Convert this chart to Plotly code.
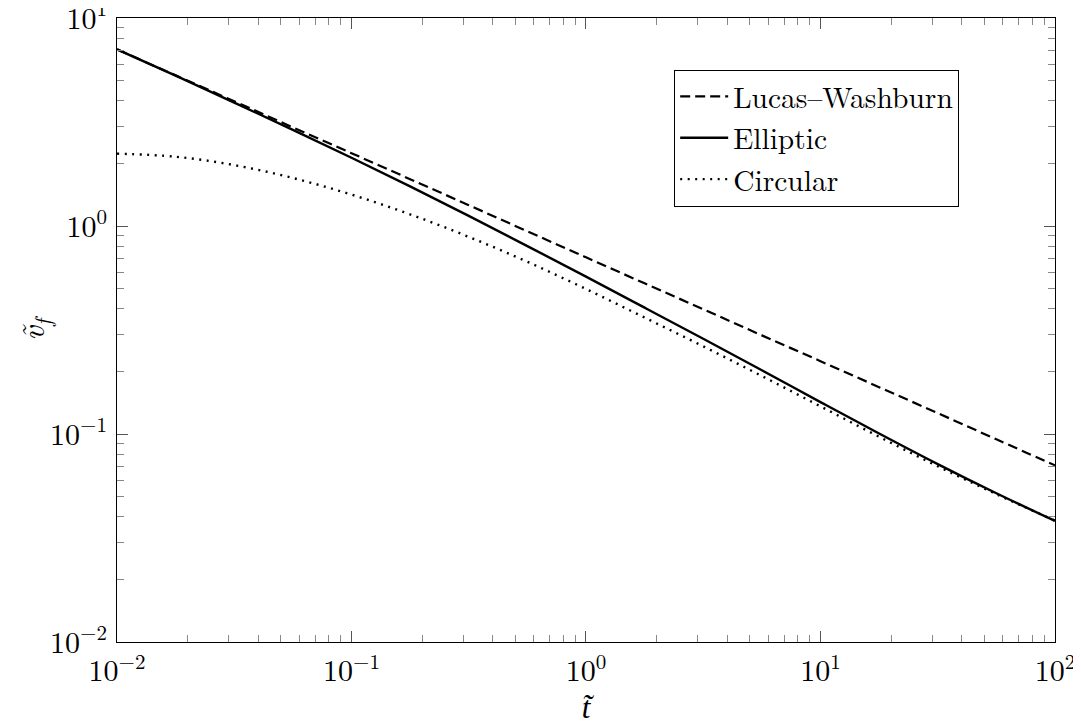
import plotly.graph_objects as go

# dimensionless time (log-spaced sample points)
t_vals = [0.01, 0.01778, 0.03162, 0.05623, 0.1, 0.1778, 0.3162, 0.5623, 1.0,
          1.778, 3.162, 5.623, 10.0, 17.78, 31.62, 56.23, 100.0]

# front velocity
v_lucas_washburn = [7.07, 5.30, 3.98, 2.98, 2.24, 1.68, 1.26, 0.943, 0.707,
                    0.530, 0.398, 0.298, 0.224, 0.168, 0.126, 0.0943, 0.0707]
v_elliptic = [7.07, 5.28, 3.92, 2.90, 2.13, 1.55, 1.118, 0.801, 0.571,
              0.405, 0.287, 0.2025, 0.1424, 0.1006, 0.0717, 0.0519, 0.0382]
v_circular = [2.228, 2.153, 1.963, 1.702, 1.416, 1.138, 0.887, 0.673, 0.498,
              0.363, 0.264, 0.190, 0.1358, 0.0970, 0.0700, 0.0514, 0.0383]

series_names = ["Lucas–Washburn", "Elliptic", "Circular"]

x_tickvals = [0.01, 0.1, 1, 10, 100]
x_ticktext = ["10<sup>−2</sup>", "10<sup>−1</sup>", "10<sup>0</sup>", "10<sup>1</sup>", "10<sup>2</sup>"]
y_tickvals = [0.01, 0.1, 1, 10]
y_ticktext = ["10<sup>−2</sup>", "10<sup>−1</sup>", "10<sup>0</sup>", "10<sup>1</sup>"]

FONT = "Latin Modern Roman"
TITLE_FONT = "Liberation Serif"

fig = go.Figure()
fig.add_trace(go.Scatter(x=t_vals, y=v_lucas_washburn, mode="lines", name=series_names[0],
                         line=dict(color="black", width=2.2, dash="10px,5px", shape="spline")))
fig.add_trace(go.Scatter(x=t_vals, y=v_elliptic, mode="lines", name=series_names[1],
                         line=dict(color="black", width=2.4, shape="spline")))
fig.add_trace(go.Scatter(x=t_vals, y=v_circular, mode="lines", name=series_names[2],
                         line=dict(color="black", width=2.4, dash="2px,5.5px", shape="spline")))

axis_common = dict(
    type="log", showgrid=False, zeroline=False, automargin=False,
    showline=True, linecolor="black", linewidth=1.2, mirror="allticks",
    ticks="inside", ticklen=11, tickwidth=1, tickcolor="#555",
    tickfont=dict(family=FONT, size=30, color="black"),
    ticklabeloverflow="allow",
    minor=dict(ticks="inside", ticklen=7, tickwidth=1, tickcolor="#888", dtick="D1", showgrid=False),
)

fig.update_xaxes(range=[-2, 2.0001], tickvals=x_tickvals, ticktext=x_ticktext,
                 ticklabelstandoff=2,
                 title=dict(text="<i>t̃</i>", font=dict(family=TITLE_FONT, size=31, color="black"), standoff=0),
                 **axis_common)
fig.update_yaxes(range=[-2, 1.0001], tickvals=y_tickvals, ticktext=y_ticktext,
                 ticklabelstandoff=3,
                 title=dict(text="<i>ṽ</i><sub><i>f</i></sub>", font=dict(family=FONT, size=32, color="black"), standoff=8),
                 **axis_common)

fig.update_layout(
    width=1081, height=723,
    margin=dict(l=109, r=34, t=10, b=89),
    paper_bgcolor="white", plot_bgcolor="white",
    font=dict(family=FONT, color="black"),
    showlegend=True,
    legend=dict(x=0.594, y=0.917, xanchor="left", yanchor="top",
                bgcolor="white", bordercolor="black", borderwidth=1,
                font=dict(family=FONT, size=29.5, color="black"),
                tracegroupgap=0, itemwidth=48),
)

fig.write_html("out.html")
